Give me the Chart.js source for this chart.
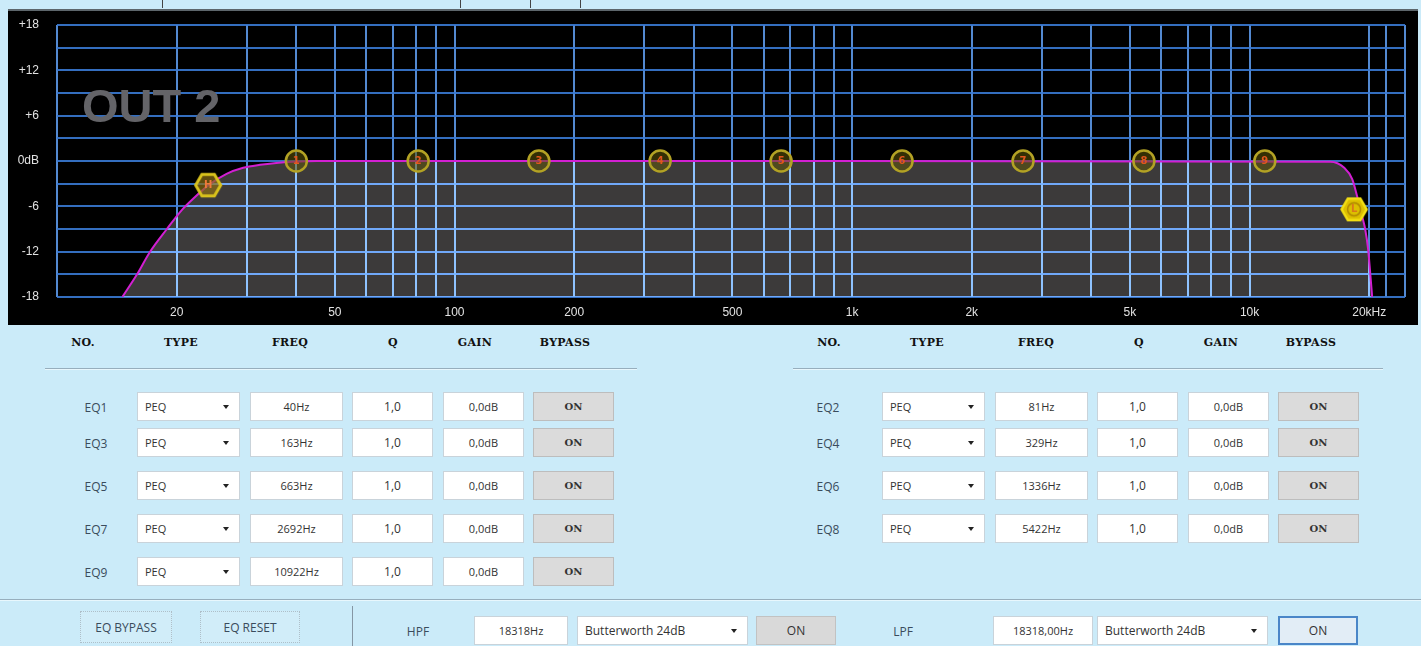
<!DOCTYPE html>
<html><head><meta charset="utf-8">
<script src="https://cdn.jsdelivr.net/npm/chart.js@4.4.1/dist/chart.umd.min.js"></script>
<style>
html,body{margin:0;padding:0;}
body{width:1421px;height:646px;background:#cbebf9;position:relative;overflow:hidden;font-family:'Open Sans','Noto Sans',sans-serif;}
#topline{position:absolute;left:8px;top:9px;width:1410px;height:2px;background:#5d666b;}
#panel{position:absolute;left:8px;top:11px;width:1410px;height:314px;background:#000;}
#c{position:absolute;left:0;top:0;}
#out2{position:absolute;font:bold 47px/47px 'Liberation Sans',Arial,sans-serif;color:#646468;white-space:nowrap;}
.tick{position:absolute;top:0;width:1px;height:8px;background:#444;}
.lbl{position:absolute;font-size:12px;color:#3a4b5c;transform:translate(-50%,-50%);white-space:nowrap;}
.hdr{position:absolute;font:bold 11px 'DejaVu Serif',serif;color:#111;transform:translate(-50%,-50%);letter-spacing:0.3px;white-space:nowrap;}
.box{position:absolute;background:#fff;border:1px solid #c9d3da;box-sizing:border-box;font-size:11px;color:#333;display:flex;align-items:center;justify-content:center;white-space:nowrap;}
.sel{justify-content:flex-start;padding-left:7px;}
.arr{position:absolute;right:10px;top:50%;margin-top:-2px;width:0;height:0;border-left:3.5px solid transparent;border-right:3.5px solid transparent;border-top:4px solid #222;}
.byp{background:#dbdbdb;border:1px solid #bdbdbd;font:bold 10px 'DejaVu Serif',serif;color:#333;}
.gbtn{background:#d9d9d9;border:1px solid #c2c2c2;font-size:12px;color:#333;}
.fbtn{background:#d1edf9;border:1px dotted #aebfc9;font-size:12px;color:#3a4b5c;}
.sep{position:absolute;height:1px;background:#97aebd;box-shadow:0 1px 0 #e8f7fd;}
</style>
</head><body>
<div id="topline"></div>
<div id="panel"><canvas id="c" width="1410" height="314"></canvas><div id="out2" style="left:74px;top:71px">OUT 2</div></div>
<div id="form"></div>
<script>
// ---------- data ----------
const gridFreqs   = [10,20,30,40,50,60,70,80,90,100,200,300,400,500,600,700,800,900,1000,2000,3000,4000,5000,6000,7000,8000,9000,10000,20000,22050,24600];
const labelFreqs  = [20,50,100,200,500,1000,2000,5000,10000,20000];
const labelTexts  = ['20','50','100','200','500','1k','2k','5k','10k','20kHz'];
const gainTicks   = [18,12,6,0,-6,-12,-18];
const gainTexts   = ['+18','+12','+6','0dB','-6','-12','-18'];

const curveFreqs  = [14.6,15.9,17.1,18.9,20.6,22.0,24.2,26.7,29.4,32.4,35.6,39.2,45,1000,15950,17300,18120,18650,19190,19530,19870,20100,20340];
const curveGains  = [-18,-15.0,-12.1,-9.0,-6.5,-5.0,-3.1,-1.7,-0.9,-0.5,-0.25,-0.1,0,0,-0.1,-0.9,-2.4,-4.7,-7.3,-9.0,-11.7,-14.7,-18];

const eqNames     = ['EQ1','EQ2','EQ3','EQ4','EQ5','EQ6','EQ7','EQ8','EQ9'];
const eqTypes     = ['PEQ','PEQ','PEQ','PEQ','PEQ','PEQ','PEQ','PEQ','PEQ'];
const eqFreqs     = [40,81,163,329,663,1336,2692,5422,10922];
const eqQs        = ['1,0','1,0','1,0','1,0','1,0','1,0','1,0','1,0','1,0'];
const eqGains     = [0,0,0,0,0,0,0,0,0];
const eqBypass    = ['ON','ON','ON','ON','ON','ON','ON','ON','ON'];
const headers     = ['NO.','TYPE','FREQ','Q','GAIN','BYPASS'];

const hpfMarker   = {freq:24, gain:-3.2};
const lpfMarker   = {freq:18318, gain:-6.4};
const hpfText     = '18318Hz';
const lpfText     = '18318,00Hz';
const filterType  = 'Butterworth 24dB';

// ---------- chart ----------
function hexImage(fill, stroke, lw, inner){
  const s=30, c=document.createElement('canvas'); c.width=s; c.height=s;
  const g=c.getContext('2d');
  g.beginPath();
  for(let k=0;k<6;k++){const a=Math.PI/3*k; g.lineTo(s/2+12.5*Math.cos(a), s/2+12.5*Math.sin(a));}
  g.closePath(); g.fillStyle=fill; g.fill(); g.lineWidth=lw; g.strokeStyle=stroke; g.stroke();
  if(inner){g.beginPath(); g.arc(s/2,s/2,6.5,0,Math.PI*2); g.lineWidth=1.5; g.strokeStyle=inner; g.stroke();}
  return c;
}
const curveData = curveFreqs.map((f,i)=>({x:f,y:curveGains[i]}));
const markerData = eqFreqs.map((f,i)=>({x:f,y:eqGains[i]}));

const overlay = {
  id:'overlay',
  beforeDatasetsDraw(chart){ chart.ctx.save(); chart.ctx.globalCompositeOperation='lighter'; },
  beforeDatasetDraw(chart){ chart.ctx.globalCompositeOperation='source-over'; },
  afterDatasetsDraw(chart){
    const ctx=chart.ctx; ctx.restore(); ctx.save();
    ctx.font='bold 10px "DejaVu Sans", sans-serif'; ctx.textAlign='center'; ctx.textBaseline='middle';
    chart.getDatasetMeta(0).data.forEach((el,i)=>{ ctx.fillStyle='#e2561e'; ctx.fillText(String(i+1), el.x, el.y+0.5); });
    const h=chart.getDatasetMeta(1).data[0]; ctx.fillStyle='#ef7a3a'; ctx.fillText('H', h.x, h.y+0.5);
    const l=chart.getDatasetMeta(2).data[0]; ctx.fillStyle='#d9791a'; ctx.fillText('L', l.x, l.y+0.5);
    ctx.restore();
  }
};

new Chart(document.getElementById('c'), {
  type:'line',
  data:{datasets:[
    {data:markerData, showLine:false, pointRadius:10.5, pointHoverRadius:10.5, pointBorderWidth:2.5,
     pointBackgroundColor:'rgba(95,85,10,0.55)', pointBorderColor:'#b3a224'},
    {data:[{x:hpfMarker.freq,y:hpfMarker.gain}], showLine:false, pointStyle:hexImage('rgba(140,110,20,0.7)','#d9c21c',3,null)},
    {data:[{x:lpfMarker.freq,y:lpfMarker.gain}], showLine:false, pointStyle:hexImage('#dcbf00','#f3df14',2.5,'rgba(170,130,0,0.9)')},
    {data:curveData, borderColor:'#d21fd2', borderWidth:2, pointRadius:0, fill:false, cubicInterpolationMode:'monotone'},
    {data:curveData, borderWidth:0, borderColor:'rgba(0,0,0,0)', pointRadius:0, fill:'start', backgroundColor:'rgb(60,58,58)', cubicInterpolationMode:'monotone'}
  ]},
  options:{
    responsive:false, animation:false, devicePixelRatio:1,
    layout:{padding:{left:9,right:11,top:14,bottom:2}},
    plugins:{legend:{display:false}, tooltip:{enabled:false}},
    scales:{
      x:{type:'logarithmic', min:10, max:24600,
         afterBuildTicks:(s)=>{ s.ticks = gridFreqs.map(v=>({value:v})); },
         afterFit:(s)=>{ s.height=26; s.paddingLeft=0; s.paddingRight=0; },
         grid:{color:'rgba(92,152,232,0.9)', lineWidth:2, drawTicks:false},
         border:{display:false},
         ticks:{autoSkip:false, maxRotation:0, padding:8, color:'#e2e2e2',
                font:{family:'Liberation Sans', size:12},
                callback:(v)=>{ const k=labelFreqs.indexOf(v); return k>=0?labelTexts[k]:''; }}},
      y:{type:'linear', min:-18, max:18,
         afterFit:(s)=>{ s.width=40; s.paddingTop=0; s.paddingBottom=0; },
         grid:{color:'rgba(58,122,212,0.9)', lineWidth:2, drawTicks:false},
         border:{display:false},
         ticks:{stepSize:3, padding:18, color:'#e2e2e2', font:{family:'Liberation Sans', size:12},
                callback:(v)=>{ const k=gainTicks.indexOf(v); return k>=0?gainTexts[k]:''; }}}
    }
  },
  plugins:[overlay]
});

// ---------- form ----------
const form=document.getElementById('form');
function el(cls, x, y, w, h, txt){
  const d=document.createElement('div'); d.className=cls; d.style.left=x+'px'; d.style.top=y+'px';
  if(w!=null){d.style.width=w+'px'; d.style.height=h+'px';}
  if(txt!=null) d.textContent=txt; form.appendChild(d); return d;
}
function sel(x,y,w,h,txt){ const d=el('box sel',x,y,w,h,txt); const a=document.createElement('div'); a.className='arr'; d.appendChild(a); return d; }
[162,460,530,580].forEach(x=>{ el('tick',x,0); });

const hdrX=[83,181,290,393,475,565];
[0,746].forEach(off=>{ headers.forEach((h,i)=>el('hdr',hdrX[i]+off,342,null,null,h)); });
el('sep',45,368,592,1); el('sep',793,368,590,1);

const rowTops=[392,428,471,514,557];
const H=29;
eqNames.forEach((n,i)=>{
  const side=i%2, row=Math.floor(i/2), off=side?745:0, y=rowTops[row];
  el('lbl', side?828:96, y+H/2, null, null, n);
  sel(137+off,y,103,H,eqTypes[i]);
  el('box',250+off,y,93,H,eqFreqs[i]+'Hz');
  el('box',352+off,y,81,H,eqQs[i]).style.fontSize='12px';
  el('box',443+off,y,81,H,eqGains[i].toFixed(1).replace('.',',')+'dB');
  el('box byp',533+off,y,81,H,eqBypass[i]);
});

el('sep',0,599,1421,1);
el('box fbtn',80,611,92,32,'EQ BYPASS');
el('box fbtn',200,611,100,32,'EQ RESET');
const dv=el('tick',352,606); dv.style.height='40px'; dv.style.background='#8596a4';
el('lbl',418,631,null,null,'HPF');
el('box',474,616,94,H,hpfText);
sel(577,616,171,H,filterType).style.fontSize='12px';
el('box gbtn',756,616,80,H,'ON');
el('lbl',903,631,null,null,'LPF');
el('box',993,616,100,H,lpfText);
sel(1097,616,171,H,filterType).style.fontSize='12px';
const on2=el('box gbtn',1278,616,80,H,'ON'); on2.style.border='2px solid #4a86c8'; on2.style.background='#e2edf6';
</script>
</body></html>
